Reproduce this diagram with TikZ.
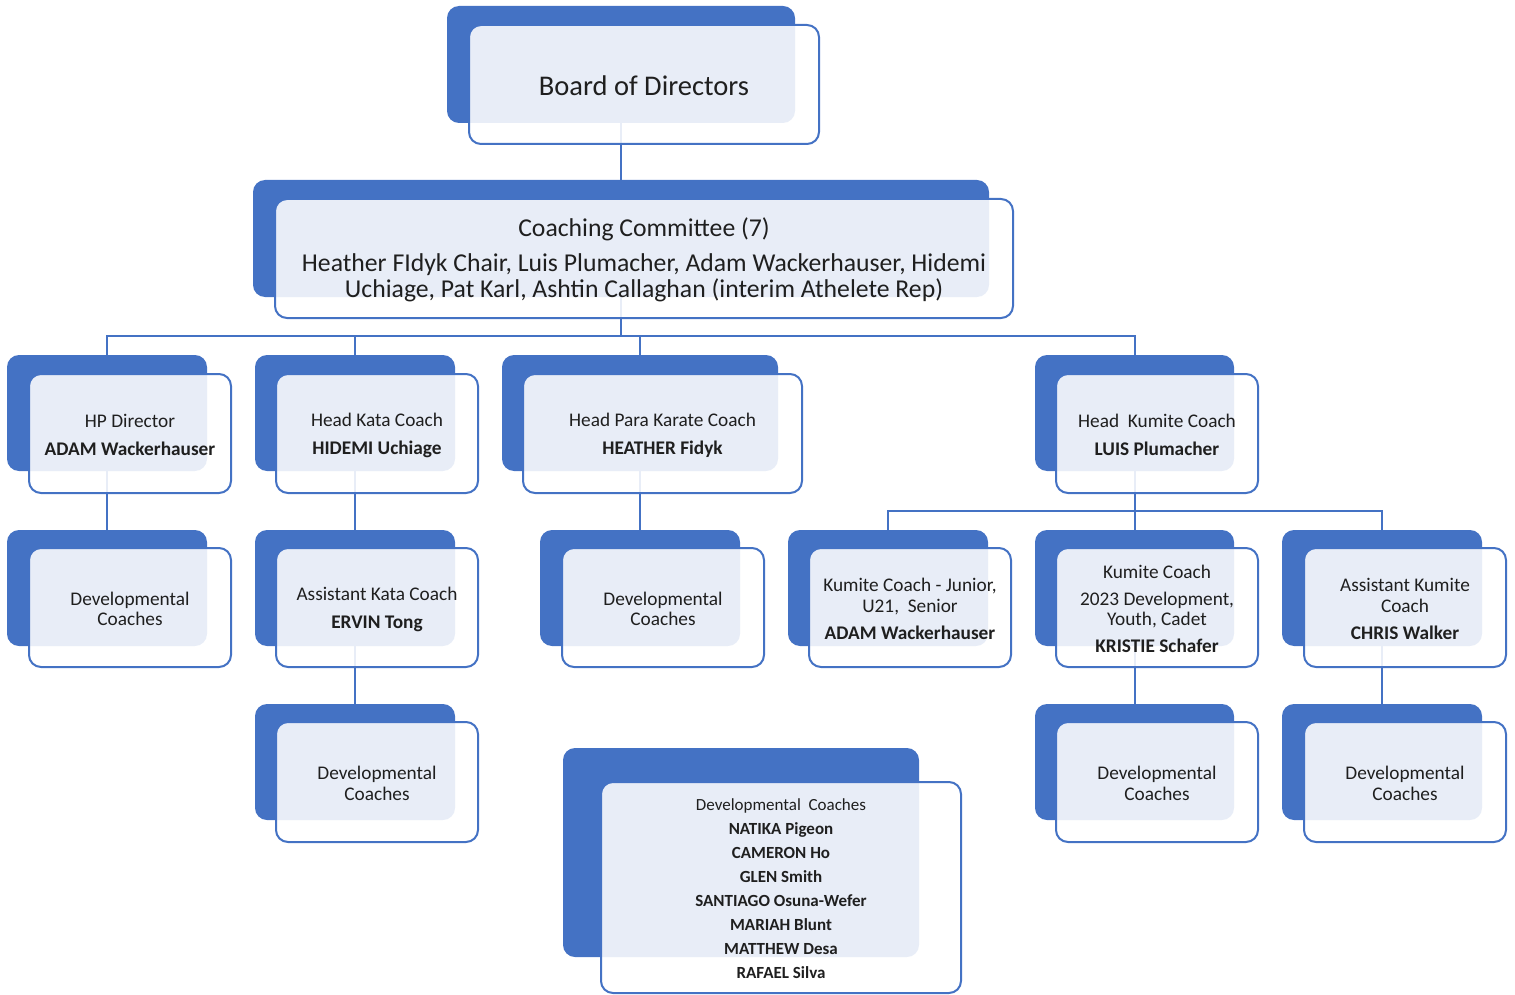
\documentclass[tikz,border=0pt]{standalone}
\usepackage{fontspec}
\setmainfont{Carlito}
\usetikzlibrary{backgrounds}
\definecolor{obl}{HTML}{4472C4}
\definecolor{otx}{HTML}{1F1F1F}
\tikzset{
  backbox/.style={fill=obl, draw=none, rounded corners=12pt, inner sep=0pt, outer sep=0pt},
  frontbox/.style={draw=obl, line width=2pt, fill=white, fill opacity=0.88, rounded corners=12pt, inner sep=0pt, outer sep=0pt},
  link/.style={draw=obl, line width=2pt},
  tbase/.style={text=otx, align=center, yshift=-1.5pt},
  tbig/.style={tbase, font=\fontsize{28.5}{34}\selectfont},
  tcom/.style={tbase, font=\fontsize{25.7}{26}\selectfont},
  trow/.style={tbase, font=\fontsize{19.3}{20.5}\selectfont},
  tlist/.style={tbase, font=\fontsize{17}{24}\selectfont},
}
\newcommand\orgbox[9]{%
  \node[backbox, minimum width={#4-#2}, minimum height={#5-#3}] (#1b) at ({(#2+#4)/2},{(#3+#5)/2}) {};
  \node[frontbox, minimum width={#8-#6}, minimum height={#9-#7}] (#1) at ({(#6+#8)/2},{(#7+#9)/2}) {};
}
\begin{document}
\begin{tikzpicture}[x=1pt,y=-1pt]
\useasboundingbox (0,0) rectangle (1515,995);

% boxes
\orgbox{bod}{447}{6}{795}{123}{469}{25}{819}{144}
\orgbox{cc}{253}{180}{989}{297}{275}{199}{1013}{318}
\orgbox{hp}{7}{355}{207}{471}{29}{374}{231}{493}
\orgbox{hka}{255}{355}{455}{471}{276}{374}{478}{493}
\orgbox{hpa}{502}{355}{778}{471}{523}{374}{802}{493}
\orgbox{hku}{1035}{355}{1234}{471}{1056}{374}{1258}{493}
\orgbox{dva}{7}{530}{207}{646}{29}{548}{231}{667}
\orgbox{ak}{255}{530}{455}{646}{276}{548}{478}{667}
\orgbox{dvb}{540}{530}{740}{646}{562}{548}{764}{667}
\orgbox{kj}{788}{530}{988}{646}{809}{548}{1011}{667}
\orgbox{kc}{1035}{530}{1234}{646}{1056}{548}{1258}{667}
\orgbox{aku}{1282}{530}{1482}{646}{1304}{548}{1506}{667}
\orgbox{dvc}{255}{704}{455}{820}{276}{722}{478}{842}
\orgbox{dvd}{1035}{704}{1234}{820}{1056}{722}{1258}{842}
\orgbox{dve}{1282}{704}{1482}{820}{1304}{722}{1506}{842}
\orgbox{lst}{563}{748}{919}{957}{601}{782}{961}{993}

% texts
\node[tbig] (t-bod) at (bod) {Board of Directors};
\node[tcom] (t-cc) at (cc) {Coaching Committee (7)\\[9pt]Heather FIdyk Chair, Luis Plumacher, Adam Wackerhauser, Hidemi\\Uchiage, Pat Karl, Ashtin Callaghan (interim Athelete Rep)};
\node[trow] (t-hp) at (hp) {HP Director\\[7.5pt]\textbf{ADAM Wackerhauser}};
\node[trow] (t-hka) at (hka) {Head Kata Coach\\[7.5pt]\textbf{HIDEMI Uchiage}};
\node[trow] (t-hpa) at (hpa) {Head Para Karate Coach\\[7.5pt]\textbf{HEATHER Fidyk}};
\node[trow] (t-hku) at (hku) {Head\ \ Kumite Coach\\[7.5pt]\textbf{LUIS Plumacher}};
\node[trow] (t-dva) at (dva) {Developmental\\Coaches};
\node[trow] (t-ak) at (ak) {Assistant Kata Coach\\[7.5pt]\textbf{ERVIN Tong}};
\node[trow] (t-dvb) at (dvb) {Developmental\\Coaches};
\node[trow] (t-kj) at (kj) {Kumite Coach - Junior,\\U21,\ \ Senior\\[6.5pt]\textbf{ADAM Wackerhauser}};
\node[trow] (t-kc) at (kc) {Kumite Coach\\[6.5pt]2023 Development,\\Youth, Cadet\\[6.5pt]\textbf{KRISTIE Schafer}};
\node[trow] (t-aku) at (aku) {Assistant Kumite\\Coach\\[6.5pt]\textbf{CHRIS Walker}};
\node[trow] (t-dvc) at (dvc) {Developmental\\Coaches};
\node[trow] (t-dvd) at (dvd) {Developmental\\Coaches};
\node[trow] (t-dve) at (dve) {Developmental\\Coaches};
\node[tlist] (t-lst) at (lst) {Developmental\ \ Coaches\\\textbf{NATIKA Pigeon}\\\textbf{CAMERON Ho}\\\textbf{GLEN Smith}\\\textbf{SANTIAGO Osuna-Wefer}\\\textbf{MARIAH Blunt}\\\textbf{MATTHEW Desa}\\\textbf{RAFAEL Silva}};

% connectors
\begin{pgfonlayer}{background}
\coordinate (bus) at (621,336);
\coordinate (busk) at (1134.5,511);
\draw[link] (bodb.south) -- (ccb.north);
\draw[link] (ccb.south) -- (bus);
\draw[link] (hpb.north) |- (bus) -| (hkub.north);
\draw[link] (hkab.north) -- (hkab.north |- bus);
\draw[link] (hpab.north) -- (hpab.north |- bus);
\draw[link] (hpb.south) -- (dvab.north);
\draw[link] (hkab.south) -- (akb.north);
\draw[link] (hpab.south) -- (dvbb.north);
\draw[link] (hkub.south) -- (busk);
\draw[link] (kjb.north) |- (busk) -| (akub.north);
\draw[link] (kcb.north) -- (busk);
\draw[link] (akb.south) -- (dvcb.north);
\draw[link] (kcb.south) -- (dvdb.north);
\draw[link] (akub.south) -- (dveb.north);
\end{pgfonlayer}
\end{tikzpicture}
\end{document}
